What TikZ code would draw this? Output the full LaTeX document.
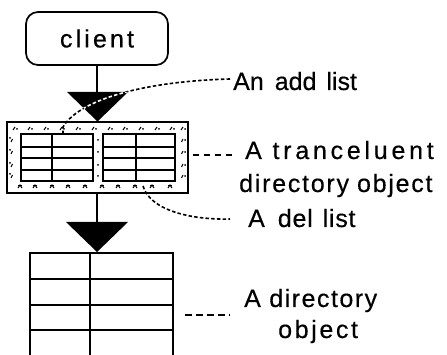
\documentclass[tikz,border=0pt]{standalone}
\usepackage{fontspec}
\setmainfont[FakeBold=0.4]{Liberation Sans}
\begin{document}
\begin{tikzpicture}[x=1pt,y=-1pt,
  frame/.style={draw=black, line width=1.7pt},
  gridline/.style={draw=black, line width=1.9pt},
  lead/.style={draw=black, line width=1.6pt, dash pattern=on 3.5pt off 2.2pt},
  dashlead/.style={draw=black, line width=1.8pt, dash pattern=on 6.5pt off 4.5pt},
  lab/.style={font=\fontsize{25}{28}\selectfont, inner sep=0pt, anchor=base west},
  clientbox/.style={frame, rounded corners=12pt, minimum width=142pt, minimum height=53pt, inner sep=0pt, font=\fontsize{25}{28}\selectfont},
  stip/.style={line width=1.1pt}
]
\useasboundingbox (0,0) rectangle (447,355);

% client
\node[clientbox] (client) at (97,38.5) {\addfontfeatures{LetterSpace=12.5}client\hspace{-3pt}};

% first triangle
\coordinate (t1a) at (67,92);
\coordinate (t1b) at (128,92);
\coordinate (t1c) at (97.5,121.5);
\coordinate (t1top) at (97,92);
\fill (t1a) -- (t1b) -- (t1c) -- cycle;
\draw[line width=1.7pt] (client.south -| t1top) -- (t1top);

% translucent directory object
\node[frame, minimum width=181pt, minimum height=71pt, inner sep=0pt] (trans) at (97.5,157.5) {};
% inner grids
\draw[gridline] (21,134) rectangle (93,181);
\foreach \yy in {147,158,170} \draw[gridline] (21,\yy) -- (93,\yy);
\draw[gridline] (52,134) -- (52,181);
\draw[gridline] (103,134) rectangle (175,181);
\foreach \yy in {147,158,170} \draw[gridline] (103,\yy) -- (175,\yy);
\draw[gridline] (136,134) -- (136,181);
% stipple
\foreach \xx in {15,30,46,62,78,94,110,125,141,157,172,183}
  {\draw[stip] (\xx-2,130) -- (\xx,127); \fill (\xx+2,129) circle (1pt);}
\foreach \xx in {20,35,52,68,85,102,118,135,152,170}
  {\draw[stip] (\xx-2,188) -- (\xx,185) -- (\xx+2,188); \draw[stip] (\xx-2.2,185.5) -- (\xx+2.2,185.5);}
\foreach \yy in {140,152,165,176}
  {\draw[stip] (11,\yy+2) -- (12.5,\yy-1); \fill (10,\yy-2) circle (1pt);
   \draw[stip] (181.5,\yy+2) -- (183,\yy-1); \fill (185,\yy) circle (1pt);
   \fill (98,\yy) circle (1pt);}

% second triangle
\coordinate (t2a) at (66,222);
\coordinate (t2b) at (128,222);
\coordinate (t2c) at (97,252);
\coordinate (t2top) at (97,222);
\fill (t2a) -- (t2b) -- (t2c) -- cycle;
\draw[line width=1.7pt] (trans.south -| t2top) -- (t2top);

% directory object (open at bottom)
\coordinate (dtl) at (30,253);
\coordinate (dtr) at (173,253);
\draw[frame] (30,358) -- (dtl) -- (dtr) -- (173,358);
\foreach \yy in {279,305,330} \draw[frame] (30,\yy) -- (173,\yy);
\draw[frame] (90,253) -- (90,358);

% labels
\node[lab] (addl) at (233,90) {An\hspace{11pt}add\hspace{10pt}list};
\node[lab] (tr1) at (245,159) {\addfontfeatures{LetterSpace=15}A tranceluent};
\node[lab] (tr2) at (239,192) {\addfontfeatures{LetterSpace=7}directory\hspace{8pt}object};
\node[lab] (dell) at (248,227) {\addfontfeatures{LetterSpace=3}A\hspace{13pt}del\hspace{10pt}list};
\node[lab] (dir1) at (244,307) {\addfontfeatures{LetterSpace=6}A directory};
\node[lab] (dir2) at (278,338) {\addfontfeatures{LetterSpace=10.5}object};

% leaders
\coordinate (addend) at (63,133);
\draw[lead] (addl.west |- 0,79) ++(-3,0) .. controls (150,81) and (80,98) .. (63,127) -- (addend);
\begin{scope}
  \clip (t1a) -- (t1b) -- (t1c) -- cycle;
  \draw[lead, draw=white] (addl.west |- 0,79) ++(-3,0) .. controls (150,81) and (80,98) .. (63,127) -- (addend);
\end{scope}
\draw[dashlead] (trans.east |- 0,155) ++(4,0) -- (233,155);
\coordinate (delstart) at (143,186);
\draw[lead] (delstart) .. controls (150,210) and (190,220) .. (230,219);
\draw[dashlead] (185,315) -- (230,315);
\end{tikzpicture}
\end{document}
